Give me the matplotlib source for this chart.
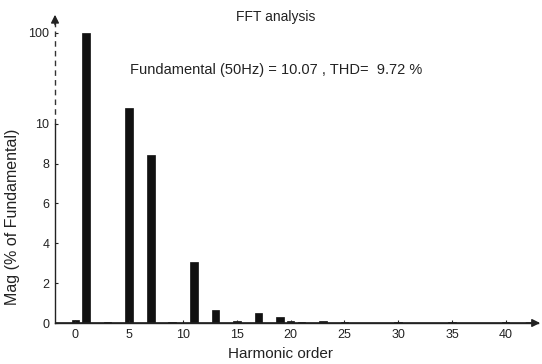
import numpy as np
import matplotlib
matplotlib.use("Agg")
import matplotlib.pyplot as plt
import matplotlib.transforms as mtransforms

plt.rcParams['font.family'] = ['Liberation Sans', 'DejaVu Sans']

# harmonic spectrum (% of fundamental)
harmonics = [0, 1, 3, 5, 7, 9, 11, 13, 15, 17, 19, 20, 21, 23, 25, 30, 35, 40]
magnitude = [0.15, 100, 0.05, 10.8, 8.45, 0.06, 3.05, 0.65, 0.08, 0.52, 0.32, 0.1, 0.06, 0.08, 0.07, 0.05, 0.05, 0.05]
yticks = [0, 2, 4, 6, 8, 10, 100]
xticks = [0, 5, 10, 15, 20, 25, 30, 35, 40]

title = 'FFT analysis'
info = 'Fundamental (50Hz) = 10.07 , THD=  9.72 %'

# broken y axis: linear up to 11, compressed above
BRK = 11.0
K = 0.0401


def fwd(v):
    v = np.asarray(v, dtype=float)
    return np.where(v <= BRK, v, BRK + (v - BRK) * K)


def inv(d):
    d = np.asarray(d, dtype=float)
    return np.where(d <= BRK, d, BRK + (d - BRK) / K)


fig = plt.figure(figsize=(5.42, 3.64), dpi=100)
ax = fig.add_axes([55/542, 1-323/364, (538-55)/542, (323-12)/364])
ax.set_yscale('function', functions=(fwd, inv))

ax.bar(harmonics, magnitude, width=0.7, color='#111111', edgecolor='#111111', linewidth=0.5)
ax.plot([-2, 43], [0, 0], color='#1e1e1e', lw=1.2)

ax.set_xlim(-1.9, 43)
ax.set_ylim(0, 126)
ax.set_xticks(xticks)
ax.set_yticks(yticks)
ax.yaxis.set_minor_locator(matplotlib.ticker.NullLocator())
ax.tick_params(labelsize=9, colors='#222222', length=2, direction='in', pad=4)

for s in ['top', 'right']:
    ax.spines[s].set_visible(False)
ax.spines['bottom'].set_color('#222222')
ax.spines['left'].set_color('#222222')
ax.spines['left'].set_bounds(0, 10)
ax.spines['bottom'].set_linewidth(1.0)
ax.spines['left'].set_linewidth(1.0)

# dashed part of the y axis and the arrow heads
tr = mtransforms.blended_transform_factory(ax.transAxes, ax.transData)
ax.plot([0, 0], [10, 118], transform=tr, color='#333333', lw=1.0, ls=(0, (4, 3)), clip_on=False)
ax.annotate('', xy=(0, 1.0), xytext=(0, 0.95), xycoords='axes fraction',
            arrowprops=dict(arrowstyle='-|>', color='#222222', lw=1.0, mutation_scale=12))
ax.annotate('', xy=(1.01, 0), xytext=(0.97, 0), xycoords='axes fraction',
            arrowprops=dict(arrowstyle='-|>', color='#222222', lw=1.0, mutation_scale=12))

fig.text(276/542, 1-17/364, title, ha='center', va='center', fontsize=10, color='#222222')
fig.text(130/542, 1-70/364, info, ha='left', va='center', fontsize=10.5, color='#222222')
fig.text(280/542, 1-354/364, 'Harmonic order', ha='center', va='center', fontsize=11, color='#222222')
fig.text(13/542, 1-217/364, 'Mag (% of Fundamental)', ha='center', va='center', rotation=90,
         fontsize=11.5, color='#222222')

fig.savefig('out.png', dpi=100)
